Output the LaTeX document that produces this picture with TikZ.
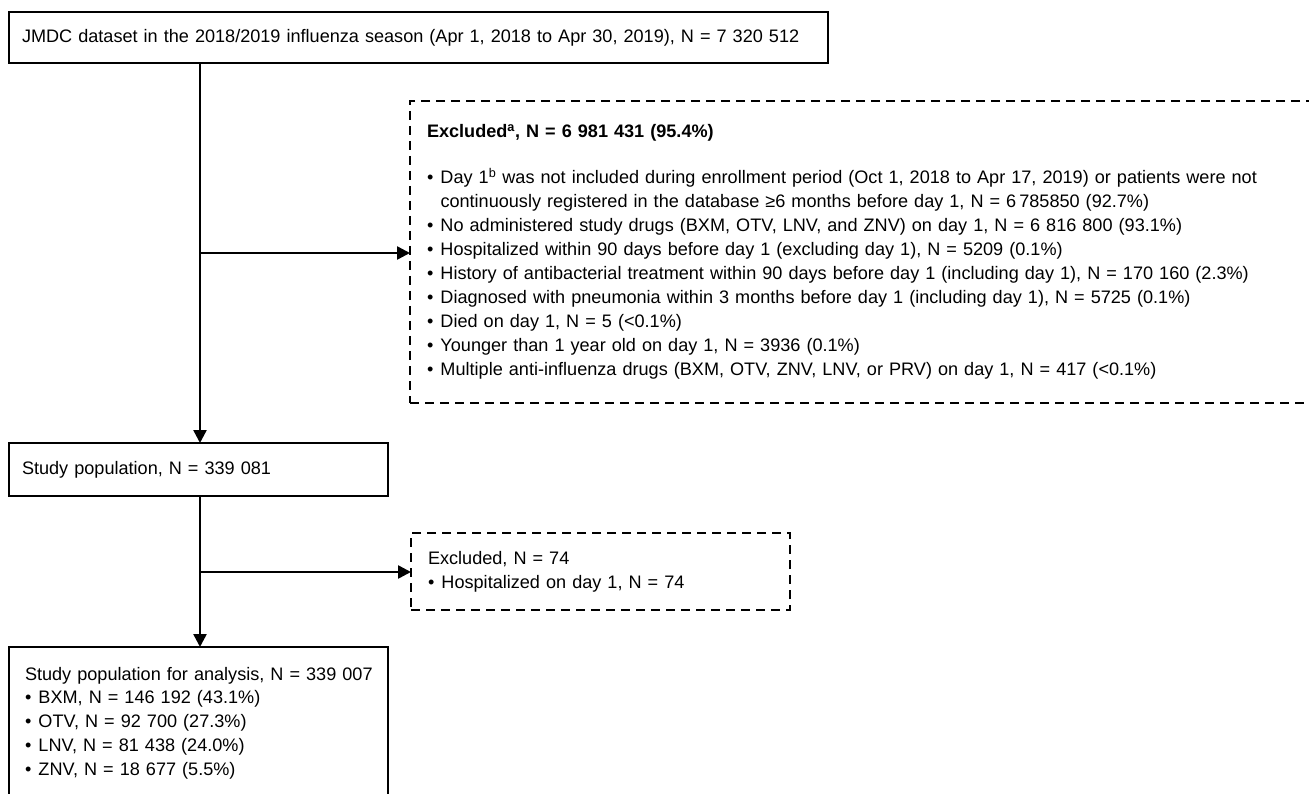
\documentclass[tikz,border=0pt]{standalone}
\usepackage{fontspec}
\setmainfont{Liberation Sans}
\usetikzlibrary{arrows.meta}
\newcommand{\bul}{\makebox[13.5pt][l]{•}}
\newcommand{\ind}{\hspace*{13.5pt}}
\begin{document}
\begin{tikzpicture}[x=1pt,y=-1pt,
  every node/.style={font=\fontsize{18.1pt}{23.8pt}\selectfont, inner sep=0pt, outer sep=0pt},
  solidbox/.style={draw, line width=2.5pt, align=left, anchor=north west, inner xsep=13pt},
  dashbox/.style={draw, line width=2.5pt, dash pattern=on 9pt off 6pt, align=left, anchor=north west, inner xsep=17pt},
  arr/.style={line width=2.5pt, -{Triangle[length=13pt,width=13pt]}}]
\useasboundingbox (0,0) rectangle (1309,794);

\node[solidbox, text width=793pt, minimum height=51pt] (top) at (9,12)
  {\mbox{JMDC dataset in the 2018/2019 influenza season (Apr 1, 2018 to Apr 30, 2019), N = 7 320 512}};

\node[dashbox, text width=950pt, minimum height=302pt,
  font=\fontsize{18.1pt}{24pt}\selectfont] (excl) at (410,101)
  {\textbf{Excluded\textsuperscript{a}, N = 6 981 431 (95.4\%)}\\[22pt]
   \bul Day 1\textsuperscript{b} was not included during enrollment period (Oct 1, 2018 to Apr 17, 2019) or patients were not\\
   \ind continuously registered in the database ≥6 months before day 1, N = 6\,785850 (92.7\%)\\
   \bul No administered study drugs (BXM, OTV, LNV, and ZNV) on day 1, N = 6 816 800 (93.1\%)\\
   \bul Hospitalized within 90 days before day 1 (excluding day 1), N = 5209 (0.1\%)\\
   \bul History of antibacterial treatment within 90 days before day 1 (including day 1), N = 170 160 (2.3\%)\\
   \bul Diagnosed with pneumonia within 3 months before day 1 (including day 1), N = 5725 (0.1\%)\\
   \bul Died on day 1, N = 5 (<0.1\%)\\
   \bul Younger than 1 year old on day 1, N = 3936 (0.1\%)\\
   \bul Multiple anti-influenza drugs (BXM, OTV, ZNV, LNV, or PRV) on day 1, N = 417 (<0.1\%)};

\node[solidbox, text width=353pt, minimum height=53pt] (study) at (9,443)
  {\mbox{Study population, N = 339 081}};

\node[dashbox, text width=345pt, minimum height=77pt] (excl2) at (411,533)
  {\mbox{Excluded, N = 74}\\
   \mbox{\bul Hospitalized on day 1, N = 74}};

\node[solidbox, inner xsep=16pt, text width=347pt, minimum height=152pt] (final) at (9,647)
  {\mbox{Study population for analysis, N = 339 007}\\
   \mbox{\bul BXM, N = 146 192 (43.1\%)}\\
   \mbox{\bul OTV, N = 92 700 (27.3\%)}\\
   \mbox{\bul LNV, N = 81 438 (24.0\%)}\\
   \mbox{\bul ZNV, N = 18 677 (5.5\%)}};

\coordinate (b1) at (200,253);
\coordinate (b2) at (200,572);
\draw[arr] (top.south -| b1) -- (study.north -| b1);
\draw[arr] (b1) -- (b1 -| excl.west);
\draw[arr] (study.south -| b2) -- (final.north -| b2);
\draw[arr] (b2) -- (b2 -| excl2.west);
\end{tikzpicture}
\end{document}
